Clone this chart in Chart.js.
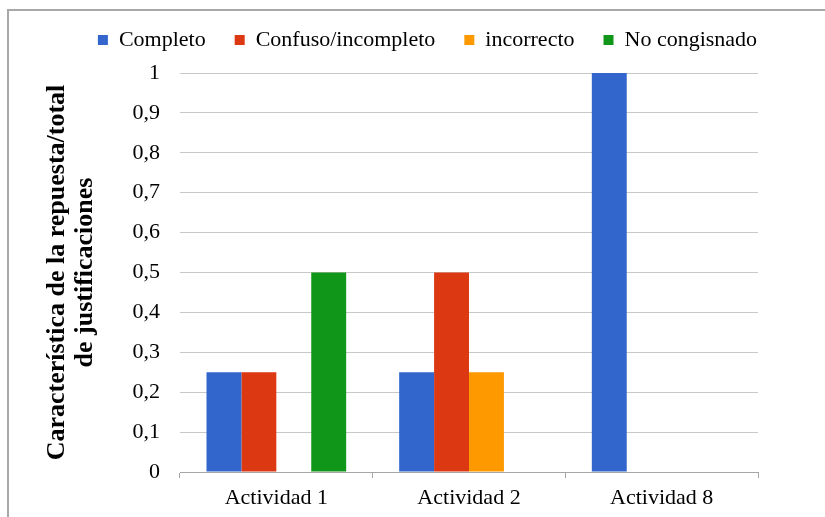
<!DOCTYPE html>
<html>
<head>
<meta charset="utf-8">
<script src="https://cdn.jsdelivr.net/npm/chart.js@4.4.1/dist/chart.umd.min.js"></script>
<style>
  html, body { margin: 0; padding: 0; background: #ffffff; }
  #wrap { width: 825px; height: 517px; }
</style>
</head>
<body>
<div id="wrap"><canvas id="c" width="825" height="517"></canvas></div>
<script>
// Categories and series (share of justifications per type of answer)
const categories = ['Actividad 1', 'Actividad 2', 'Actividad 8'];
const completo = [0.25, 0.25, 1];
const confusoIncompleto = [0.25, 0.5, 0];
const incorrecto = [0, 0.25, 0];
const noCongisnado = [0.5, 0, 0];
const yTickLabels = ['0', '0,1', '0,2', '0,3', '0,4', '0,5', '0,6', '0,7', '0,8', '0,9', '1'];
const yTitle = ['Característica de la repuesta/total', 'de justificaciones'];

const SERIF = '"Liberation Serif", "Times New Roman", serif';
const LEGEND_BAND = 73;

// White page with a thin grey frame
const framePlugin = {
  id: 'frame',
  beforeDraw(chart) {
    const ctx = chart.ctx;
    ctx.save();
    ctx.fillStyle = '#ffffff';
    ctx.fillRect(0, 0, chart.width, chart.height);
    ctx.strokeStyle = '#a8a8a8';
    ctx.lineWidth = 2;
    ctx.strokeRect(8, 10, chart.width + 20, chart.height + 20);
    ctx.restore();
  }
};

// Fixed legend band height so the plot starts right below the legend row
const legendBandPlugin = {
  id: 'legendBand',
  afterInit(chart) {
    const legend = chart.legend;
    if (legend && !legend._bandPatched) {
      const baseFit = legend.fit;
      legend.fit = function () {
        baseFit.call(this);
        this.height = LEGEND_BAND;
      };
      legend._bandPatched = true;
    }
  }
};

const chart = new Chart(document.getElementById('c'), {
  type: 'bar',
  data: {
    labels: categories,
    datasets: [
      { label: 'Completo', data: completo, backgroundColor: '#3366cc' },
      { label: 'Confuso/incompleto', data: confusoIncompleto, backgroundColor: '#dc3912' },
      { label: 'incorrecto', data: incorrecto, backgroundColor: '#ff9900' },
      { label: 'No congisnado', data: noCongisnado, backgroundColor: '#109618' }
    ]
  },
  options: {
    responsive: false,
    animation: false,
    devicePixelRatio: 1,
    layout: { padding: { left: 30, right: 0, top: 0, bottom: 0 } },
    datasets: {
      bar: { categoryPercentage: 0.725, barPercentage: 1, borderWidth: 0 }
    },
    plugins: {
      legend: {
        position: 'top',
        align: 'center',
        labels: {
          boxWidth: 10,
          boxHeight: 10,
          padding: 29,
          color: '#000000',
          font: { family: SERIF, size: 22 }
        }
      },
      tooltip: { enabled: false }
    },
    scales: {
      x: {
        afterFit(scale) { scale.height = 45; },
        grid: {
          offset: true,
          drawOnChartArea: false,
          drawTicks: true,
          tickLength: 6,
          color: '#a6a6a6'
        },
        border: { display: true, color: '#a6a6a6', width: 1 },
        ticks: {
          color: '#000000',
          padding: 7,
          font: { family: SERIF, size: 22 }
        }
      },
      y: {
        position: 'left',
        min: 0,
        max: 1,
        afterFit(scale) { scale.width = 150; },
        grid: { color: '#c8c8c8', drawTicks: false },
        border: { display: false },
        ticks: {
          stepSize: 0.1,
          padding: 20,
          color: '#000000',
          font: { family: SERIF, size: 22 },
          callback(value, index) { return yTickLabels[index]; }
        },
        title: {
          display: true,
          text: yTitle,
          color: '#000000',
          padding: { top: 13, bottom: 0 },
          font: { family: SERIF, size: 26, weight: 'bold', lineHeight: 1.08 }
        }
      },
      yRight: {
        position: 'right',
        min: 0,
        max: 1,
        afterFit(scale) { scale.width = 67; },
        grid: { display: false },
        border: { display: false },
        ticks: { display: false }
      }
    }
  },
  plugins: [framePlugin, legendBandPlugin]
});
chart.update();
</script>
</body>
</html>
